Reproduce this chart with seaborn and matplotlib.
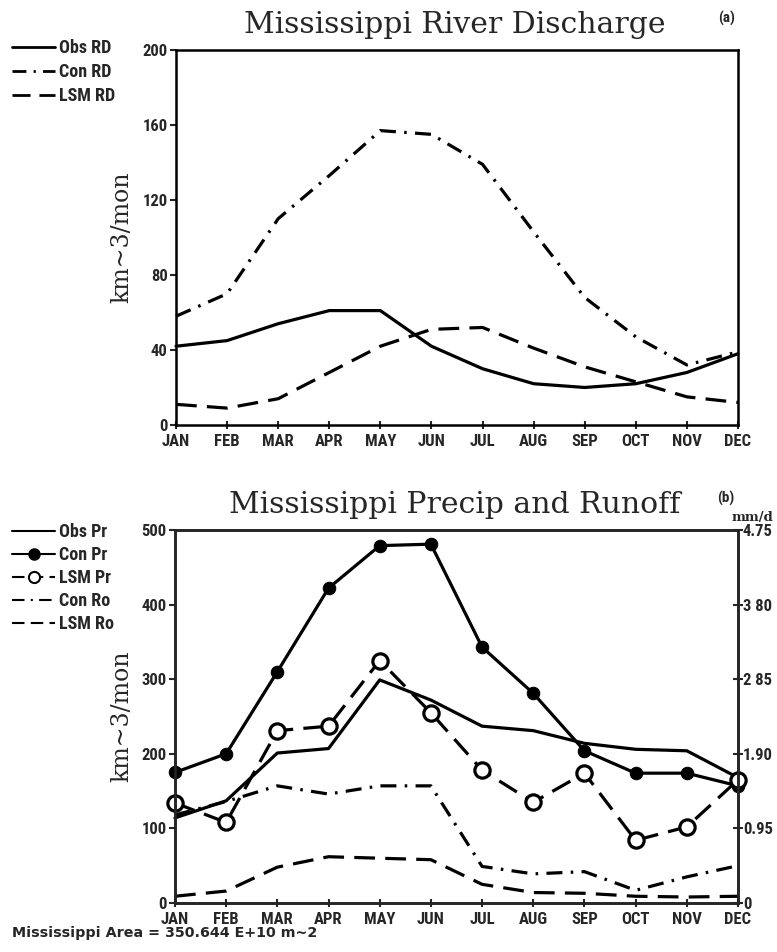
import matplotlib
matplotlib.use("Agg")
import matplotlib.pyplot as plt
import seaborn as sns
import pandas as pd
import numpy as np
from matplotlib.lines import Line2D
from matplotlib import font_manager

sns.set_style("ticks")
plt.rcParams['font.family'] = ['DejaVu Sans']

months = ["JAN", "FEB", "MAR", "APR", "MAY", "JUN", "JUL", "AUG", "SEP", "OCT", "NOV", "DEC"]

# Panel (a): river discharge (km^3/mon)
obs_rd = [42, 45, 54, 61, 61, 42, 30, 22, 20, 22, 28, 38]
con_rd = [58, 70, 110, 133, 157, 155, 139, 103, 68, 47, 32, 39]
lsm_rd = [11, 9, 14, 28, 42, 51, 52, 41, 31, 23, 15, 12]

# Panel (b): precipitation and runoff (km^3/mon)
obs_pr = [114, 137, 201, 207, 299, 272, 237, 231, 214, 206, 204, 168]
con_pr = [175, 200, 310, 422, 479, 481, 343, 281, 204, 174, 174, 157]
lsm_pr = [134, 108, 231, 237, 325, 255, 178, 135, 174, 84, 102, 165]
con_ro = [118, 136, 157, 146, 157, 157, 49, 39, 42, 17, 35, 50]
lsm_ro = [9, 16, 48, 62, 60, 58, 25, 14, 13, 9, 8, 9]

yticks_a = [0, 40, 80, 120, 160, 200]
yticks_b = [0, 100, 200, 300, 400, 500]
right_ticks_b = [0, 0.95, 1.90, 2.85, 3.80, 4.75]
right_labels_b = ["0", "0.95", "1.90", "2 85", "3 80", "4.75"]

# pick a condensed bold sans if available
names = {f.name for f in font_manager.fontManager.ttflist}
cond = [n for n in ["Liberation Sans Narrow", "DejaVu Sans Condensed", "Roboto Condensed",
                    "Open Sans Condensed"] if n in names]
TFAM = cond + ['DejaVu Sans']
STRETCH = 'condensed'
SERIF = ['DejaVu Serif']

def tfont(size):
    return font_manager.FontProperties(family=TFAM, weight='bold', size=size, stretch=STRETCH)

fig = plt.figure(figsize=(7.77, 9.52), dpi=100)
ax1 = fig.add_axes([0.2265, 0.5536, 0.7233, 0.3939])
ax2 = fig.add_axes([0.2252, 0.0515, 0.7246, 0.3918])

x = np.arange(12)
lw = 2.3
DASH = (0, (6.5, 3.2))
DASHDOT = (0, (5.0, 2.6, 0.8, 2.6))

def series(vals):
    return pd.DataFrame({"m": x, "v": vals})

# ---- Panel (a)
sns.lineplot(data=series(obs_rd), x="m", y="v", ax=ax1, color="black", lw=lw, linestyle="-")
sns.lineplot(data=series(con_rd), x="m", y="v", ax=ax1, color="black", lw=lw, linestyle=DASHDOT)
sns.lineplot(data=series(lsm_rd), x="m", y="v", ax=ax1, color="black", lw=lw, linestyle=DASH)

# ---- Panel (b)
sns.lineplot(data=series(obs_pr), x="m", y="v", ax=ax2, color="black", lw=lw, linestyle="-")
sns.lineplot(data=series(con_pr), x="m", y="v", ax=ax2, color="black", lw=lw, linestyle="-",
             marker="o", markersize=9, markerfacecolor="black", markeredgecolor="black")
sns.lineplot(data=series(lsm_pr), x="m", y="v", ax=ax2, color="black", lw=lw, linestyle=DASH,
             marker="o", markersize=11, markerfacecolor="white", markeredgecolor="black",
             markeredgewidth=2.3)
sns.lineplot(data=series(con_ro), x="m", y="v", ax=ax2, color="black", lw=lw, linestyle=DASHDOT)
sns.lineplot(data=series(lsm_ro), x="m", y="v", ax=ax2, color="black", lw=lw, linestyle=DASH)

TICK_SIZE = 12
for ax, yt, ymax in [(ax1, yticks_a, 200), (ax2, yticks_b, 500)]:
    ax.set_xlim(0, 11)
    ax.set_ylim(0, ymax)
    ax.set_xticks(x)
    ax.set_xticklabels(months)
    ax.set_yticks(yt)
    ax.set_yticklabels([str(v) for v in yt])
    ax.set_xlabel("")
    ax.set_ylabel("")
    for s in ax.spines.values():
        s.set_visible(True)
        s.set_linewidth(1.8)
        s.set_color("black")
    ax.tick_params(axis='y', direction='out', length=4, width=1.5, pad=2)
    ax.tick_params(axis='x', direction='inout', length=6, width=1.5, pad=3.5)
    for lab in ax.get_xticklabels():
        lab.set_fontproperties(tfont(12))
    for lab in ax.get_yticklabels():
        lab.set_fontproperties(tfont(TICK_SIZE))
    for ln in ax.lines:
        ln.set_clip_on(False)

# right axis of (b): mm/d
axr = ax2.twinx()
axr.set_ylim(0, 4.75)
axr.set_yticks(right_ticks_b)
axr.set_yticklabels(right_labels_b)
axr.tick_params(axis='y', direction='inout', length=7, width=1.5, pad=0)
for lab in axr.get_yticklabels():
    lab.set_fontproperties(tfont(TICK_SIZE))
for s in axr.spines.values():
    s.set_linewidth(1.8)

# titles and labels
fig.text(0.5856, 0.9653, "Mississippi River Discharge", family=SERIF, size=21.5,
         ha='center', va='baseline')
fig.text(0.5856, 0.4611, "Mississippi Precip and Runoff", family=SERIF, size=21.5,
         ha='center', va='baseline')
fig.text(727/777, 1 - 18/952, "(a)", fontproperties=tfont(11), ha='center', va='center')
fig.text(726/777, 1 - 498/952, "(b)", fontproperties=tfont(11), ha='center', va='center')
fig.text(752/777, 1 - 517/952, "mm/d", family=SERIF, weight='bold', size=9.5,
         ha='center', va='center')
fig.text(122/777, 1 - 237/952, "km~3/mon", family=SERIF, size=17, rotation=90,
         ha='center', va='center')
fig.text(122/777, 1 - 716/952, "km~3/mon", family=SERIF, size=17, rotation=90,
         ha='center', va='center')
fig.text(12/777, 1 - 933/952, "Mississippi Area = 350.644 E+10 m~2",
         family=['DejaVu Sans'], weight='bold', size=10.3, ha='left', va='center')

# legends
leg_font = tfont(13)
h_a = [Line2D([], [], color='black', lw=2.0, ls='-'),
       Line2D([], [], color='black', lw=2.0, ls=DASHDOT),
       Line2D([], [], color='black', lw=2.0, ls=DASH)]
fig.legend(h_a, ["Obs RD", "Con RD", "LSM RD"], loc='upper left',
           bbox_to_anchor=(12/777, 1 - 39/952), frameon=False, prop=leg_font,
           handlelength=2.4, handletextpad=0.22, labelspacing=0.33,
           borderaxespad=0, borderpad=0)

h_b = [Line2D([], [], color='black', lw=1.5, ls='-'),
       Line2D([], [], color='black', lw=1.5, ls='-', marker='o', ms=8, mfc='black'),
       Line2D([], [], color='black', lw=1.5, ls=(0, (6, 3)), marker='o', ms=8, mfc='white', mew=1.5),
       Line2D([], [], color='black', lw=1.5, ls=(0, (6, 3, 1, 3))),
       Line2D([], [], color='black', lw=1.5, ls=(0, (6, 3)))]
fig.legend(h_b, ["Obs Pr", "Con Pr", "LSM Pr", "Con Ro", "LSM Ro"], loc='upper left',
           bbox_to_anchor=(12/777, 1 - 523/952), frameon=False, prop=leg_font,
           handlelength=2.4, handletextpad=0.22, labelspacing=0.28,
           borderaxespad=0, borderpad=0)

fig.savefig("out.png", dpi=100)
